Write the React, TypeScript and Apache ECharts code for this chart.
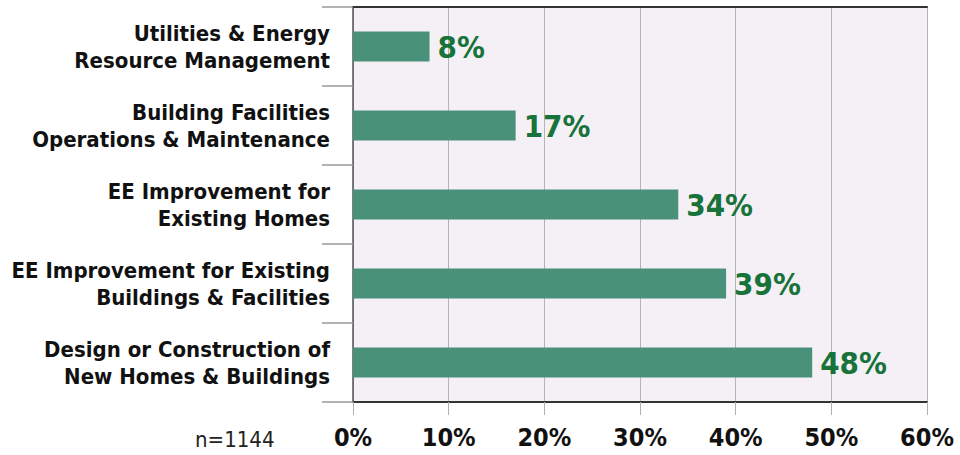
import React, { useEffect, useRef } from "react";
import * as echarts from "echarts";

const categories = [
  "Utilities & Energy\nResource Management",
  "Building Facilities\nOperations & Maintenance",
  "EE Improvement for\nExisting Homes",
  "EE Improvement for Existing\nBuildings & Facilities",
  "Design or Construction of\nNew Homes & Buildings",
];
const values = [8, 17, 34, 39, 48];
const sampleNote = "n=1144";

const FONT = "'Liberation Sans Narrow', 'DejaVu Sans Condensed', 'Roboto Condensed', Arial, sans-serif";

export default function App() {
  const ref = useRef<HTMLDivElement>(null);
  useEffect(() => {
    if (!ref.current) return;
    const chart = echarts.init(ref.current, null, { renderer: "svg" });
    chart.setOption({
      animation: false,
      backgroundColor: "#ffffff",
      textStyle: { fontFamily: FONT },
      grid: {
        left: 353,
        right: 33,
        top: 7,
        bottom: 53,
        show: true,
        backgroundColor: "#f4f0f6",
        borderWidth: 0,
      },
      xAxis: [
        {
          type: "value",
          min: 0,
          max: 60,
          interval: 10,
          position: "bottom",
          axisLine: { show: true, lineStyle: { color: "#333333", width: 2 } },
          axisTick: { show: true, length: 13, lineStyle: { color: "#b0b0b0", width: 1 } },
          splitLine: { show: true, lineStyle: { color: "#b4b4b4", width: 1 } },
          axisLabel: {
            formatter: "{value}%",
            color: "#111111",
            fontSize: 25,
            fontWeight: "bold",
            fontFamily: FONT,
            margin: 23,
          },
        },
        {
          type: "value",
          min: 0,
          max: 60,
          interval: 10,
          position: "top",
          axisLine: { show: true, lineStyle: { color: "#333333", width: 2 } },
          axisTick: { show: false },
          splitLine: { show: false },
          axisLabel: { show: false },
        },
      ],
      yAxis: {
        type: "category",
        data: categories,
        inverse: true,
        axisLine: { show: true, lineStyle: { color: "#555555", width: 1.5 } },
        axisTick: { show: true, length: 31, lineStyle: { color: "#9a9a9a", width: 1.5 } },
        axisLabel: {
          color: "#111111",
          fontSize: 22,
          fontWeight: "bold",
          fontFamily: FONT,
          lineHeight: 27,
          margin: 23,
          align: "right",
          padding: [0, 0, 5, 0],
        },
      },
      series: [
        {
          type: "bar",
          data: values,
          barCategoryGap: "62%",
          itemStyle: { color: "#4a917a" },
          label: {
            show: true,
            position: "right",
            distance: 8,
            formatter: "{c}%",
            color: "#17733a",
            fontSize: 31,
            fontWeight: "bold",
            fontFamily: FONT,
          },
        },
      ],
      graphic: [
        {
          type: "text",
          left: 195,
          top: 428,
          style: {
            text: sampleNote,
            fill: "#222222",
            fontSize: 22,
            fontFamily: FONT,
          },
        },
      ],
    });
    return () => chart.dispose();
  }, []);
  return <div ref={ref} style={{ width: 960, height: 455, position: "absolute", left: 0, top: 0 }} />;
}
